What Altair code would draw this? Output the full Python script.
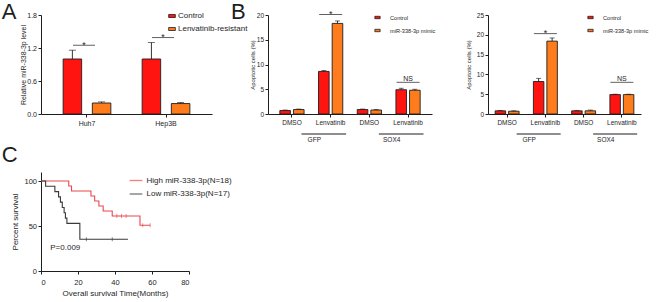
import altair as alt
import pandas as pd

FONT = "Liberation Sans"
RED = "#ff1410"
ORANGE = "#ff7c1c"
INK = "#1e1e1e"
C_RED = "#e8494a"
C_DARK = "#3a3a3a"

# ---------------- Panel A ----------------
a_cells = ["Huh7", "Hep3B"]
a_groups = ["Control", "Lenvatinib-resistant"]
a_control = [1.00, 1.00]
a_control_err = [0.16, 0.30]
a_resist = [0.20, 0.19]
a_resist_err = [0.02, 0.02]
a_sig_y = [1.25, 1.39]
a_sig_label = ["*", "*"]

# ---------------- Panel B ----------------
b_cats = ["DMSO|GFP", "Lenvatinib|GFP", "DMSO|SOX4", "Lenvatinib|SOX4"]
b_groups = ["Control", "miR-338-3p mimic"]
b1_control = [0.7, 8.6, 0.9, 4.9]
b1_control_err = [0.1, 0.2, 0.1, 0.3]
b1_mimic = [0.9, 18.3, 0.8, 4.8]
b1_mimic_err = [0.1, 0.5, 0.1, 0.2]
b1_sig_y = [20.1, 6.4]
b2_control = [0.8, 8.2, 0.8, 4.9]
b2_control_err = [0.1, 0.8, 0.1, 0.1]
b2_mimic = [0.7, 18.4, 0.8, 4.9]
b2_mimic_err = [0.1, 0.8, 0.2, 0.1]
b2_sig_y = [20.3, 8.0]
b_sig_cat = ["Lenvatinib|GFP", "Lenvatinib|SOX4"]
b_sig_label = ["*", "NS"]
b_bracket_start = ["DMSO|GFP", "DMSO|SOX4"]
b_bracket_end = ["Lenvatinib|GFP", "Lenvatinib|SOX4"]
b_bracket_label = ["GFP", "SOX4"]

# ---------------- Panel C ----------------
c_groups = ["High miR-338-3p(N=18)", "Low miR-338-3p(N=17)"]
high_t = [0, 15, 16.5, 27, 29, 31.3, 33.6, 38.5, 53.5, 59]
high_s = [100, 94.4, 88.9, 83.3, 77.8, 72.2, 66.7, 61.1, 50.9, 50.9]
high_cens_t = [41, 43.5, 46, 55, 59]
high_cens_s = [61.1, 61.1, 61.1, 50.9, 50.9]
low_t = [0, 2.5, 7.5, 9.5, 10.5, 11.5, 12.5, 13.2, 14, 21, 47]
low_s = [100, 94.1, 88.2, 82.4, 76.5, 70.6, 64.7, 58.8, 52.9, 35.3, 35.3]
low_cens_t = [24.5, 38.5]
low_cens_s = [35.3, 35.3]
p_text = ["P=0.009"]

LEFT = 41  # absolute left of panel A plot area
TOP = 15   # absolute top of panel A plot area
H = 99


def bar_rows(cats, groups, v1, e1, v2, e2):
    rows = []
    for c, a, ea, b, eb in zip(cats, v1, e1, v2, e2):
        rows.append({"cat": c, "grp": groups[0], "val": a, "up": a + ea})
        rows.append({"cat": c, "grp": groups[1], "val": b, "up": b + eb})
    return pd.DataFrame(rows)


def bar_panel(df, sig_df, cats, groups, ymax, yticks, yfmt, ytitle,
              x_outer, off_inner, off_outer, label_expr, xlab_size,
              ylab_size, ytitle_size, cap, sig_w, star_size, legend, y_title_pad,
              sig_shift):
    xs = alt.Scale(domain=cats, paddingInner=0, paddingOuter=x_outer)
    offs = alt.Scale(domain=groups, paddingInner=off_inner, paddingOuter=off_outer)
    xaxis = alt.Axis(title=None, labelAngle=0, labelFontSize=xlab_size,
                     labelExpr=label_expr, labelPadding=2)
    yaxis = alt.Axis(title=ytitle, values=yticks, format=yfmt, labelFontSize=ylab_size,
                     titleFontSize=ytitle_size, titlePadding=y_title_pad)
    ys = alt.Scale(domain=[0, ymax], nice=False)
    X = alt.X("cat:N", scale=xs, axis=xaxis, sort=cats)
    XO = alt.XOffset("grp:N", scale=offs, sort=groups)
    Y = alt.Y("val:Q", scale=ys, axis=yaxis)
    base = alt.Chart(df)
    bars = base.mark_bar(stroke=INK, strokeWidth=0.9).encode(
        x=X, xOffset=XO, y=Y,
        color=alt.Color("grp:N", scale=alt.Scale(domain=groups, range=[RED, ORANGE]),
                        legend=legend),
    )
    err = base.mark_rule(color=INK, strokeWidth=0.9).encode(
        x=X, xOffset=XO, y=Y, y2="up:Q")
    caps = base.mark_tick(color=INK, thickness=0.9, size=cap).encode(
        x=X, xOffset=XO, y=alt.Y("up:Q", scale=ys, axis=yaxis))
    sig = alt.Chart(sig_df)
    sig_line = sig.mark_tick(color=INK, thickness=1, size=sig_w, xOffset=sig_shift).encode(
        x=X, y=alt.Y("sy:Q", scale=ys, axis=yaxis))
    star = sig.transform_filter(alt.datum.lab == "*").mark_text(
        font=FONT, fontSize=star_size, color=INK, baseline="alphabetic", dy=2.5,
        dx=sig_shift).encode(
        x=X, y=alt.Y("sy:Q", scale=ys, axis=yaxis), text="lab:N")
    ns = sig.transform_filter(alt.datum.lab == "NS").mark_text(
        font=FONT, fontSize=7, color=INK, baseline="alphabetic", dy=-1).encode(
        x=X, y=alt.Y("sy:Q", scale=ys, axis=yaxis), text="lab:N")
    return bars, err, caps, sig_line, star, ns


# ---- Panel A chart ----
dfA = bar_rows(a_cells, a_groups, a_control, a_control_err, a_resist, a_resist_err)
sigA = pd.DataFrame({"cat": a_cells, "sy": a_sig_y, "lab": a_sig_label})
legA = alt.Legend(title=None, orient="none", legendX=127, legendY=-3,
                  symbolType="M-1,-0.45L1,-0.45L1,0.45L-1,0.45Z", symbolSize=45,
                  symbolStrokeColor=INK, symbolStrokeWidth=0.8,
                  labelFontSize=8, rowPadding=5, labelOffset=2, padding=0)
pA = bar_panel(dfA, sigA, a_cells, a_groups, 1.8, [0, 0.6, 1.2, 1.8], ".1f",
               "Relative miR-338-3p level", 0.082, 0.366, 0.536, "datum.label",
               7, 7, 7, 7, 22, 9, legA, 0, -3)
letterA = alt.Chart(pd.DataFrame({"t": ["A"]})).mark_text(
    font=FONT, fontSize=22, color=INK, align="left", baseline="top").encode(
    text="t:N", x=alt.value(1.7 - LEFT), y=alt.value(1.7 - TOP))
letterB = alt.Chart(pd.DataFrame({"t": ["B"]})).mark_text(
    font=FONT, fontSize=22, color=INK, align="left", baseline="top").encode(
    text="t:N", x=alt.value(231 - LEFT), y=alt.value(1.7 - TOP))
anchor = alt.Chart(pd.DataFrame({"k": [0]})).mark_rule(opacity=0, strokeWidth=0).encode(
    x=alt.value(-LEFT), x2=alt.value(-LEFT + 1), y=alt.value(-TOP), y2=alt.value(-TOP))
chartA = alt.layer(*pA, letterA, letterB, anchor).properties(width=171, height=H)


# ---- Panel B charts ----
def b_chart(ctrl, ctrl_err, mim, mim_err, sig_y, width, ymax, yticks, x_outer, legX,
            title_pad):
    df = bar_rows(b_cats, b_groups, ctrl, ctrl_err, mim, mim_err)
    sig = pd.DataFrame({"cat": b_sig_cat, "sy": sig_y, "lab": b_sig_label})
    leg = alt.Legend(title=None, orient="none", legendX=legX, legendY=-1,
                     symbolType="M-1,-0.45L1,-0.45L1,0.45L-1,0.45Z", symbolSize=28,
                     symbolStrokeColor=INK, symbolStrokeWidth=0.8,
                     labelFontSize=5.6, rowPadding=5, labelOffset=9, padding=0)
    parts = bar_panel(df, sig, b_cats, b_groups, ymax, yticks, "d",
                      "Apoptotic cells (%)", x_outer, 0.222, 0.53,
                      "split(datum.label, '|')[0]", 6.5, 6.5, 6, 5, 23, 9, leg, title_pad, 0)
    br = pd.DataFrame({"cat": b_bracket_start, "cat2": b_bracket_end, "lab": b_bracket_label})
    xaxis_b = alt.Axis(title=None, labelAngle=0, labelFontSize=6.5,
                       labelExpr="split(datum.label, '|')[0]", labelPadding=2)
    xscale_b = alt.Scale(domain=b_cats, paddingInner=0, paddingOuter=x_outer)
    xs_start = alt.X("cat:N", scale=xscale_b, axis=xaxis_b, sort=b_cats)
    rule = alt.Chart(br).mark_rule(color=INK, strokeWidth=1, xOffset=9.5).encode(
        x=xs_start, x2=alt.X2("cat2:N", bandPosition=0.9),
        y=alt.value(H + 20), y2=alt.value(H + 20))
    xs_mid = alt.X("cat:N", scale=xscale_b, axis=xaxis_b, sort=b_cats, bandPosition=1.0)
    lab = alt.Chart(br).mark_text(font=FONT, fontSize=6.5, color=INK, baseline="middle",
                                  dx=3).encode(
        x=xs_mid, y=alt.value(H + 26), text="lab:N")
    return alt.layer(*parts, rule, lab).properties(width=width, height=H)


chartB1 = b_chart(b1_control, b1_control_err, b1_mimic, b1_mimic_err, b1_sig_y,
                  164, 20, [0, 5, 10, 15, 20], 0.119, 106, 0.5)
chartB2 = b_chart(b2_control, b2_control_err, b2_mimic, b2_mimic_err, b2_sig_y,
                  153, 25, [0, 5, 10, 15, 20, 25], 0.0, 99, 5)

# ---- Panel C chart ----
surv = pd.DataFrame(
    [{"grp": c_groups[0], "t": t, "s": s} for t, s in zip(high_t, high_s)]
    + [{"grp": c_groups[1], "t": t, "s": s} for t, s in zip(low_t, low_s)])
cens = pd.DataFrame(
    [{"grp": c_groups[0], "t": t, "s": s} for t, s in zip(high_cens_t, high_cens_s)]
    + [{"grp": c_groups[1], "t": t, "s": s} for t, s in zip(low_cens_t, low_cens_s)])
cx = alt.X("t:Q", scale=alt.Scale(domain=[0, 80], nice=False),
           axis=alt.Axis(title="Overall survival Time(Months)", values=[0, 20, 40, 60, 80],
                         labelFontSize=7.5, titleFontSize=8, titlePadding=4,
                         labelPadding=4))
cy = alt.Y("s:Q", scale=alt.Scale(domain=[0, 110], nice=False),
           axis=alt.Axis(title="Percent survival", values=[0, 50, 100],
                         labelFontSize=7.5, titleFontSize=8, titlePadding=4))
ccol = alt.Color("grp:N", scale=alt.Scale(domain=c_groups, range=[C_RED, C_DARK]),
                 legend=alt.Legend(title=None, orient="none", legendX=88, legendY=1.5,
                                   symbolType="stroke", symbolSize=160, symbolStrokeWidth=1.3,
                                   labelFontSize=8, rowPadding=2.5, labelOffset=3.5,
                                   padding=0))
c_lines = alt.Chart(surv).mark_line(interpolate="step-after", strokeWidth=1.1).encode(
    x=cx, y=cy, color=ccol)
c_ticks = alt.Chart(cens).mark_tick(orient="vertical", size=4, thickness=0.9).encode(
    x=cx, y=cy, color=ccol)
c_p = alt.Chart(pd.DataFrame({"t": [5], "s": [26], "lab": p_text})).mark_text(
    font=FONT, fontSize=8, color=INK, align="left", baseline="middle").encode(
    x=cx, y=cy, text="lab:N")
letterC = alt.Chart(pd.DataFrame({"t": ["C"]})).mark_text(
    font=FONT, fontSize=22, color=INK, align="left", baseline="top").encode(
    text="t:N", x=alt.value(1.7 - LEFT), y=alt.value(145 - 172))
chartC = alt.layer(c_lines, c_ticks, c_p, letterC).properties(width=148, height=H)

chart = alt.concat(
    chartA, chartB1, chartB2, chartC, columns=3,
    spacing={"row": 58, "column": 56}, bounds="flush", padding=0,
).resolve_scale(
    color="independent", xOffset="independent"
).configure_view(stroke=None).configure_axis(
    labelFont=FONT, titleFont=FONT, labelColor=INK, titleColor=INK,
    domainColor=INK, tickColor=INK, domainWidth=1, tickWidth=1, tickSize=3,
    titleFontWeight="normal", grid=False, labelPadding=1.5
).configure_legend(labelFont=FONT, labelColor=INK)

chart.save("out.html", embed_options={"renderer": "svg", "actions": False})
